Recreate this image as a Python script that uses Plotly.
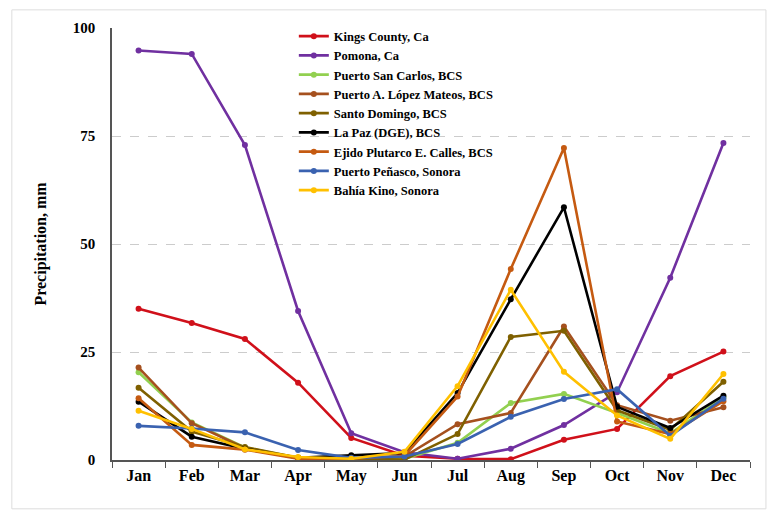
import plotly.graph_objects as go

months = ['Jan', 'Feb', 'Mar', 'Apr', 'May', 'Jun', 'Jul', 'Aug', 'Sep', 'Oct', 'Nov', 'Dec']

kings_county = [35.0, 31.7, 28.0, 17.9, 5.1, 1.0, 0.3, 0.2, 4.7, 7.2, 19.4, 25.1]
pomona = [94.8, 94.0, 72.9, 34.5, 6.2, 1.8, 0.3, 2.6, 8.1, 15.7, 42.2, 73.4]
pto_san_carlos = [20.3, 8.7, 2.9, 0.5, 0.3, 0.3, 4.0, 13.2, 15.3, 10.9, 6.2, 14.5]
pto_lopez_mateos = [21.4, 8.5, 2.8, 0.4, 0.2, 0.8, 8.3, 10.9, 30.9, 12.7, 9.1, 12.2]
santo_domingo = [16.7, 6.6, 3.0, 0.5, 0.3, 0.1, 6.0, 28.5, 29.9, 11.5, 7.0, 18.1]
la_paz = [13.5, 5.4, 2.6, 0.5, 1.1, 1.6, 15.5, 37.2, 58.5, 12.3, 7.4, 14.9]
ejido_plutarco = [14.3, 3.5, 2.4, 0.3, 0.3, 1.0, 14.7, 44.2, 72.2, 8.9, 6.0, 13.6]
pto_penasco = [7.9, 7.3, 6.4, 2.3, 0.5, 0.8, 3.7, 10.0, 14.1, 16.4, 5.6, 14.2]
bahia_kino = [11.4, 7.2, 2.5, 0.7, 0.3, 1.9, 17.1, 39.4, 20.4, 10.3, 4.9, 19.9]

series = [
    ('Kings County, Ca', kings_county, '#D0101A'),
    ('Pomona, Ca', pomona, '#7030A0'),
    ('Puerto San Carlos, BCS', pto_san_carlos, '#92D050'),
    ('Puerto A. López Mateos, BCS', pto_lopez_mateos, '#A5501E'),
    ('Santo Domingo, BCS', santo_domingo, '#7F6000'),
    ('La Paz (DGE), BCS', la_paz, '#000000'),
    ('Ejido Plutarco E. Calles, BCS', ejido_plutarco, '#C55A11'),
    ('Puerto Peñasco, Sonora', pto_penasco, '#3A62B0'),
    ('Bahía Kino, Sonora', bahia_kino, '#FFC000'),
]

font_serif = 'Liberation Serif'

fig = go.Figure()
for nombre, valores, color in series:
    fig.add_trace(go.Scatter(x=months, y=valores, name=nombre, mode='lines+markers',
                             line=dict(color=color, width=2.6),
                             marker=dict(color=color, size=6)))

# la página deja 8 px de margen, se compensa con width/height y margenes
fig.update_layout(
    width=771, height=512,
    paper_bgcolor='white', plot_bgcolor='white',
    margin=dict(l=104, r=29, t=20, b=60),
    font=dict(family=font_serif, color='black'),
    legend=dict(x=0.285, y=1.015, xanchor='left', yanchor='top',
                bgcolor='rgba(0,0,0,0)', itemwidth=30,
                font=dict(family=font_serif, size=12.5, color='black', weight='bold')),
    shapes=[dict(type='rect', xref='paper', yref='paper',
                 x0=-0.157, x1=1.025, y0=-0.113, y1=1.042,
                 line=dict(color='#DDDDDD', width=1), layer='below')],
)

fig.update_xaxes(
    type='category', range=[-0.5, 11.5],
    showline=True, linecolor='#555555', linewidth=1.5,
    ticks='outside', tickson='boundaries', ticklen=6, tickcolor='#555555',
    showgrid=False,
    tickfont=dict(family=font_serif, size=16, color='black', weight='bold'),
)
fig.update_yaxes(
    range=[0, 100], tickvals=[0, 25, 50, 75, 100],
    showline=True, linecolor='#555555', linewidth=1.5,
    showgrid=True, gridcolor='#CCCCCC', griddash='dash', gridwidth=1,
    zeroline=False, ticks='', ticklabelstandoff=12,
    tickfont=dict(family=font_serif, size=15, color='black', weight='bold'),
    title=dict(text='Precipitation, mm', standoff=22,
               font=dict(family=font_serif, size=16, color='black', weight='bold')),
)

fig.write_html("out.html")
